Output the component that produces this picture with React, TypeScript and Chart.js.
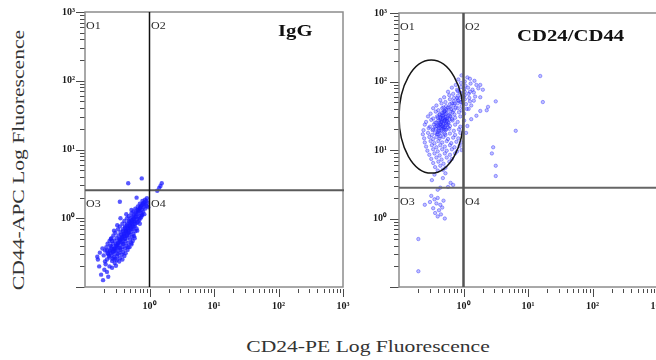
import React, { useEffect, useRef } from "react";
import { Chart, registerables } from "chart.js";
Chart.register(...registerables);

// ---------- data (log10 fluorescence) ----------
const axisMin = 0.1;
const axisMax = 1000;
const decades = [0.1, 1, 10, 100, 1000];
const decadeLabels = ["", "10\u2070", "10\u00b9", "10\u00b2", "10\u00b3"];
const minorSteps = [2, 3, 4, 5, 6, 7, 8, 9];
const quadrantNames = ["O1", "O2", "O3", "O4"];
const panelTitles = ["IgG", "CD24/CD44"];
const xAxisTitle = "CD24-PE Log Fluorescence";
const yAxisTitle = "CD44-APC Log Fluorescence";
const igGQuadrant = { x: 1, y: 2.55 };
const cdQuadrant = { x: 1, y: 2.8 };
const cdGate = { xMin: 0.1, xMax: 1.0, yMin: 4.6, yMax: 206 };

// [log10 CD24, log10 CD44]
const igGCells: [number, number][] = [
  [-0.71,-0.54],[-0.66,-0.60],[-0.62,-0.57],[-0.58,-0.62],[-0.54,-0.65],[-0.65,-0.51],[-0.69,-0.63],
  [-0.69,-0.47],[-0.64,-0.52],[-0.59,-0.54],[-0.55,-0.57],[-0.51,-0.61],[-0.61,-0.48],[-0.57,-0.59],[-0.47,-0.63],
  [-0.67,-0.42],[-0.62,-0.46],[-0.57,-0.49],[-0.54,-0.52],[-0.50,-0.55],[-0.46,-0.58],[-0.59,-0.44],[-0.53,-0.47],[-0.42,-0.60],
  [-0.65,-0.37],[-0.59,-0.41],[-0.55,-0.44],[-0.51,-0.47],[-0.47,-0.50],[-0.43,-0.53],[-0.56,-0.48],[-0.50,-0.42],[-0.39,-0.55],
  [-0.62,-0.33],[-0.57,-0.37],[-0.52,-0.40],[-0.48,-0.43],[-0.45,-0.46],[-0.41,-0.49],[-0.54,-0.44],[-0.49,-0.37],[-0.37,-0.51],
  [-0.59,-0.29],[-0.54,-0.33],[-0.49,-0.36],[-0.46,-0.39],[-0.42,-0.42],[-0.38,-0.44],[-0.51,-0.40],[-0.45,-0.33],[-0.34,-0.46],
  [-0.56,-0.25],[-0.51,-0.29],[-0.46,-0.32],[-0.43,-0.35],[-0.40,-0.37],[-0.36,-0.40],[-0.48,-0.35],[-0.42,-0.29],[-0.31,-0.42],
  [-0.53,-0.21],[-0.48,-0.25],[-0.43,-0.28],[-0.40,-0.31],[-0.37,-0.33],[-0.33,-0.36],[-0.45,-0.31],[-0.39,-0.25],[-0.28,-0.38],
  [-0.49,-0.16],[-0.45,-0.20],[-0.40,-0.23],[-0.37,-0.26],[-0.34,-0.28],[-0.30,-0.31],[-0.42,-0.26],[-0.36,-0.20],[-0.26,-0.33],
  [-0.46,-0.12],[-0.41,-0.16],[-0.37,-0.19],[-0.34,-0.22],[-0.31,-0.24],[-0.27,-0.27],[-0.39,-0.22],[-0.33,-0.16],[-0.23,-0.29],
  [-0.42,-0.08],[-0.38,-0.12],[-0.35,-0.15],[-0.32,-0.18],[-0.29,-0.20],[-0.25,-0.23],[-0.36,-0.18],[-0.30,-0.12],
  [-0.39,-0.04],[-0.35,-0.08],[-0.32,-0.11],[-0.29,-0.14],[-0.26,-0.16],[-0.22,-0.19],[-0.33,-0.14],[-0.27,-0.08],
  [-0.35,0.00],[-0.32,-0.04],[-0.29,-0.07],[-0.26,-0.10],[-0.23,-0.12],[-0.20,-0.15],[-0.30,-0.10],[-0.24,-0.04],
  [-0.32,0.03],[-0.29,0.00],[-0.26,-0.02],[-0.23,-0.05],[-0.20,-0.07],[-0.27,-0.05],[-0.21,0.01],
  [-0.28,0.07],[-0.25,0.04],[-0.22,0.02],[-0.19,-0.01],[-0.16,-0.03],[-0.24,-0.01],
  [-0.25,0.10],[-0.22,0.08],[-0.19,0.06],[-0.16,0.03],[-0.13,0.01],[-0.18,0.10],
  [-0.22,0.14],[-0.19,0.12],[-0.16,0.10],[-0.13,0.07],[-0.11,0.05],[-0.15,0.14],
  [-0.18,0.17],[-0.15,0.15],[-0.12,0.12],[-0.10,0.10],[-0.13,0.18],
  [-0.15,0.21],[-0.12,0.19],[-0.09,0.16],[-0.07,0.14],[-0.10,0.22],
  [-0.11,0.25],[-0.08,0.23],[-0.06,0.20],[-0.04,0.18],
  [-0.07,0.27],[-0.05,0.25],[-0.03,0.23],[-0.04,0.29],
  [-0.63,-0.55],[-0.60,-0.51],[-0.56,-0.45],[-0.52,-0.38],[-0.47,-0.30],[-0.44,-0.24],[-0.41,-0.19],[-0.38,-0.14],
  [-0.35,-0.10],[-0.31,-0.05],[-0.28,-0.03],[-0.25,0.02],[-0.21,0.06],[-0.17,0.12],[-0.14,0.16],[-0.09,0.20],
  [-0.53,-0.59],[-0.49,-0.52],[-0.45,-0.44],[-0.41,-0.37],[-0.38,-0.30],[-0.35,-0.25],[-0.32,-0.21],[-0.28,-0.16],
  [-0.25,-0.12],[-0.22,-0.08],[-0.18,-0.05],[-0.15,0.00],[-0.12,0.04],[-0.66,-0.47],[-0.61,-0.40],[-0.58,-0.33],
  [-0.80,-0.60],[-0.78,-0.70],[-0.75,-0.82],[-0.72,-0.90],[-0.70,-0.75],[-0.66,-0.78],[-0.62,-0.70],[-0.68,-0.67],
  [-0.77,-0.50],[-0.73,-0.44],[-0.58,-0.72],[-0.52,-0.69],[-0.81,-0.56],[-0.64,-0.85],[-0.60,-0.30],[-0.55,-0.18],
  [-0.50,-0.10],[-0.45,0.00],[-0.36,0.06],[-0.28,0.12],[-0.33,-0.42],[-0.28,-0.36],[-0.24,-0.26],[-0.19,-0.18],
  [-0.15,-0.08],[-0.08,0.06],[-0.02,0.16],[-0.33,0.51],[-0.12,0.58],[0.12,0.40],[0.15,0.44],[0.17,0.47],
  [0.19,0.51],[-0.46,0.24],[-0.20,0.30],
];

const cdCells: [number, number][] = [
  [-0.03,2.09],[0.06,2.06],
  [-0.08,2.03],[0.02,2.00],[0.10,2.04],[0.17,2.01],
  [-0.12,1.95],[-0.04,1.98],[0.03,1.94],[0.11,1.97],[0.20,1.95],
  [-0.18,1.91],[-0.10,1.88],[-0.04,1.92],[0.01,1.89],[0.07,1.91],[0.14,1.88],[0.23,1.90],
  [-0.24,1.85],[-0.16,1.82],[-0.09,1.86],[-0.03,1.83],[0.02,1.85],[0.08,1.82],[0.16,1.84],
  [-0.30,1.77],[-0.22,1.80],[-0.15,1.76],[-0.09,1.79],[-0.04,1.77],[0.02,1.80],[0.09,1.76],[0.18,1.78],
  [-0.36,1.73],[-0.28,1.70],[-0.21,1.74],[-0.15,1.71],[-0.09,1.73],[-0.04,1.70],[0.02,1.74],[0.10,1.71],[-0.18,1.68],
  [-0.42,1.65],[-0.34,1.68],[-0.27,1.64],[-0.21,1.67],[-0.15,1.65],[-0.09,1.68],[-0.03,1.64],[0.04,1.67],[-0.24,1.62],[0.12,1.65],
  [-0.47,1.61],[-0.39,1.58],[-0.33,1.61],[-0.27,1.59],[-0.21,1.62],[-0.15,1.58],[-0.09,1.61],[-0.03,1.58],[-0.30,1.56],[0.05,1.60],
  [-0.51,1.53],[-0.43,1.56],[-0.37,1.52],[-0.31,1.55],[-0.26,1.53],[-0.20,1.56],[-0.14,1.52],[-0.07,1.55],[0.01,1.53],[-0.34,1.50],[-0.23,1.51],
  [-0.55,1.49],[-0.47,1.46],[-0.41,1.49],[-0.36,1.47],[-0.31,1.50],[-0.26,1.46],[-0.20,1.49],[-0.13,1.47],[-0.05,1.49],[-0.33,1.44],[-0.28,1.45],
  [-0.58,1.41],[-0.50,1.44],[-0.44,1.40],[-0.39,1.43],[-0.34,1.41],[-0.29,1.44],[-0.24,1.40],[-0.17,1.43],[-0.09,1.41],[0.01,1.43],[-0.36,1.38],[-0.31,1.39],
  [-0.60,1.37],[-0.52,1.34],[-0.46,1.37],[-0.41,1.35],[-0.36,1.37],[-0.32,1.34],[-0.27,1.36],[-0.21,1.35],[-0.13,1.37],[-0.05,1.34],[-0.38,1.32],[-0.29,1.33],
  [-0.62,1.29],[-0.54,1.32],[-0.48,1.29],[-0.43,1.31],[-0.38,1.28],[-0.33,1.31],[-0.28,1.29],[-0.22,1.31],[-0.15,1.28],[-0.07,1.30],[-0.40,1.26],
  [-0.63,1.23],[-0.55,1.25],[-0.49,1.22],[-0.44,1.25],[-0.39,1.23],[-0.34,1.25],[-0.28,1.22],[-0.21,1.24],[-0.13,1.22],[-0.05,1.25],
  [-0.61,1.17],[-0.53,1.19],[-0.47,1.16],[-0.42,1.19],[-0.37,1.17],[-0.31,1.19],[-0.24,1.16],[-0.16,1.18],[-0.08,1.17],
  [-0.60,1.11],[-0.51,1.13],[-0.45,1.10],[-0.39,1.13],[-0.33,1.11],[-0.26,1.13],[-0.19,1.10],[-0.11,1.12],[-0.03,1.11],
  [-0.58,1.05],[-0.49,1.07],[-0.42,1.04],[-0.36,1.07],[-0.29,1.05],[-0.21,1.07],[-0.14,1.04],[-0.06,1.06],
  [-0.56,0.99],[-0.47,1.01],[-0.40,0.98],[-0.33,1.01],[-0.26,0.99],[-0.18,1.01],[-0.10,0.98],[-0.03,1.00],
  [-0.53,0.93],[-0.45,0.95],[-0.37,0.92],[-0.29,0.95],[-0.21,0.93],[-0.13,0.95],
  [-0.50,0.87],[-0.42,0.89],[-0.34,0.86],[-0.26,0.89],[-0.18,0.87],
  [-0.47,0.81],[-0.39,0.83],[-0.31,0.80],[-0.22,0.83],
  [-0.44,0.75],[-0.36,0.77],[-0.28,0.74],
  [-0.40,0.70],[-0.32,0.71],
  [-0.34,1.41],[-0.31,1.37],[-0.36,1.44],[-0.29,1.43],[-0.38,1.35],[-0.32,1.47],[-0.27,1.39],[-0.35,1.33],
  [-0.30,1.30],[-0.40,1.47],[-0.25,1.46],[-0.37,1.52],[-0.33,1.55],[-0.28,1.52],[-0.42,1.40],[-0.23,1.40],
  [-0.34,1.28],[-0.39,1.29],[-0.29,1.24],[-0.44,1.34],[-0.21,1.50],[-0.26,1.58],[-0.31,1.62],[-0.19,1.60],
  [-0.36,1.20],[-0.41,1.23],[-0.47,1.30],[-0.24,1.33],[-0.18,1.45],[-0.14,1.68],[-0.10,1.76],[-0.06,1.84],
  [-0.03,1.70],[0.00,1.78],
  [-0.30,1.42],[-0.33,1.35],[-0.37,1.40],[-0.26,1.42],[-0.32,1.50],[-0.35,1.46],[-0.28,1.48],[-0.39,1.37],
  [-0.31,1.33],[-0.27,1.30],[-0.22,1.45],[-0.25,1.37],[-0.29,1.57],[-0.17,1.55],[-0.12,1.62],[-0.08,1.72],
  [-0.49,0.56],[-0.32,0.59],[-0.16,0.49],[-0.24,0.46],[-0.40,0.42],[-0.36,0.45],[-0.45,0.64],[-0.28,0.66],[-0.20,0.52],
  [-0.50,0.33],[-0.45,0.28],[-0.40,0.30],[-0.42,0.22],[-0.36,0.20],[-0.47,0.15],[-0.38,0.12],[-0.33,0.16],
  [-0.44,0.08],[-0.40,0.03],[-0.35,0.06],[-0.29,0.00],[-0.52,0.24],[-0.31,0.26],[-0.60,0.20],[-0.70,-0.30],[-0.70,-0.77],
  [0.26,1.95],[0.26,1.77],[0.38,1.63],[0.36,1.58],[0.50,1.71],[0.26,1.57],[1.19,2.08],[1.23,1.70],
  [0.81,1.28],[0.46,1.04],[0.44,0.95],[0.50,0.77],[0.50,0.62],[0.08,1.60],[0.12,1.45],[0.06,1.35],
  [0.10,1.85],[0.16,1.72],[0.04,1.25],[0.20,1.50],[0.30,1.88],
];

// ---------- drawing helpers ----------
function stretchedText(ctx: CanvasRenderingContext2D, text: string, x: number, y: number, sx: number) {
  ctx.save();
  ctx.translate(x, y);
  ctx.scale(sx, 1);
  ctx.fillText(text, 0, 0);
  ctx.restore();
}

const flowDeco = {
  id: "flowDeco",
  afterDatasetsDraw(chart: any, _args: any, opts: any) {
    const { ctx, chartArea: a } = chart;
    const xs = chart.scales.x;
    const ys = chart.scales.y;
    ctx.save();
    if (opts.gate) {
      const l = xs.getPixelForValue(opts.gate.xMin);
      const r = xs.getPixelForValue(opts.gate.xMax);
      const t = ys.getPixelForValue(opts.gate.yMax);
      const b = ys.getPixelForValue(opts.gate.yMin);
      ctx.beginPath();
      ctx.ellipse((l + r) / 2, (t + b) / 2, (r - l) / 2, (b - t) / 2, 0, 0, Math.PI * 2);
      ctx.strokeStyle = "#151515";
      ctx.lineWidth = 1.5;
      ctx.stroke();
    }
    ctx.strokeStyle = "#8c8c8c";
    ctx.lineWidth = 1.5;
    ctx.strokeRect(a.left, a.top, a.right - a.left, a.bottom - a.top);
    const qx = xs.getPixelForValue(opts.quad.x);
    const qy = ys.getPixelForValue(opts.quad.y);
    ctx.strokeStyle = opts.hColor;
    ctx.lineWidth = opts.hWidth;
    ctx.beginPath();
    ctx.moveTo(a.left, qy);
    ctx.lineTo(a.right + 1, qy);
    ctx.stroke();
    ctx.strokeStyle = opts.vColor;
    ctx.lineWidth = opts.vWidth;
    ctx.beginPath();
    ctx.moveTo(qx, a.top);
    ctx.lineTo(qx, a.bottom);
    ctx.stroke();
    ctx.fillStyle = "#2a2a2a";
    ctx.font = '10px "Liberation Serif"';
    ctx.textBaseline = "alphabetic";
    ctx.textAlign = "left";
    stretchedText(ctx, quadrantNames[0], a.left + 1, a.top + 16.5, 1.2);
    stretchedText(ctx, quadrantNames[1], qx + 1.5, a.top + 16.5, 1.2);
    stretchedText(ctx, quadrantNames[2], a.left + 1, qy + 17, 1.2);
    stretchedText(ctx, quadrantNames[3], qx + 1.5, qy + 17, 1.2);
    ctx.fillStyle = "#111";
    ctx.font = 'bold 17px "Liberation Serif"';
    stretchedText(ctx, opts.title, a.left + opts.titleDx, a.top + opts.titleDy, 1.22);
    ctx.restore();
  },
  afterDraw(chart: any) {
    const { ctx, chartArea: a } = chart;
    const xs = chart.scales.x;
    const ys = chart.scales.y;
    ctx.save();
    ctx.globalAlpha = 1;
    ctx.setLineDash([]);
    ctx.strokeStyle = "#4a4a4a";
    ctx.lineWidth = 1;
    ctx.beginPath();
    for (let i = 0; i < decades.length; i++) {
      const d = decades[i];
      const vals: number[] = [d];
      if (d < axisMax) for (let j = 0; j < minorSteps.length; j++) vals.push(d * minorSteps[j]);
      for (let k = 0; k < vals.length; k++) {
        const v = vals[k];
        const major = k === 0;
        const py = Math.round(ys.getPixelForValue(v)) + 0.5;
        ctx.moveTo(a.left - (major ? 9 : 5), py);
        ctx.lineTo(a.left - 0.5, py);
        if (d === axisMin && major) continue;
        const px = Math.round(xs.getPixelForValue(v)) + 0.5;
        ctx.moveTo(px, a.bottom + 2);
        ctx.lineTo(px, a.bottom + 2 + (major ? 8 : 4));
      }
    }
    ctx.stroke();
    ctx.restore();
  },
};

type PanelProps = {
  cells: [number, number][];
  left: number;
  width: number;
  yAxisWidth: number;
  padRight: number;
  padTop: number;
  labelPad: number;
  deco: any;
  pointStyle: any;
};

function Panel(p: PanelProps) {
  const ref = useRef<HTMLCanvasElement | null>(null);
  useEffect(() => {
    if (!ref.current) return;
    const points = p.cells.map(([lx, ly]) => ({ x: Math.pow(10, lx), y: Math.pow(10, ly) }));
    const tickFont = { family: '"Liberation Serif"', size: 10, weight: "bold" as const };
    const labelFor = (v: number) => {
      const i = decades.findIndex((d) => Math.abs(d - v) / d < 1e-6);
      return i >= 0 ? decadeLabels[i] : "";
    };
    const setTicks = (s: any) => {
      s.ticks = decades.map((v) => ({ value: v, major: true }));
    };
    const chart = new Chart(ref.current, {
      type: "scatter",
      data: {
        datasets: [{ data: points, ...p.pointStyle }],
      },
      plugins: [flowDeco as any],
      options: {
        animation: false,
        responsive: false,
        devicePixelRatio: 1,
        events: [],
        layout: { padding: { left: 0, right: p.padRight, top: p.padTop, bottom: 0 } },
        plugins: {
          legend: { display: false },
          tooltip: { enabled: false },
          flowDeco: p.deco,
        } as any,
        scales: {
          x: {
            type: "logarithmic",
            position: "bottom",
            min: axisMin,
            max: axisMax,
            grid: { display: false, drawTicks: false },
            border: { display: false },
            afterBuildTicks: setTicks,
            afterFit: (s: any) => {
              s.height = 33;
              s.paddingLeft = 0;
              s.paddingRight = 0;
            },
            ticks: {
              autoSkip: false,
              maxRotation: 0,
              padding: 13,
              color: "#1a1a1a",
              font: tickFont,
              callback: (v: any) => labelFor(Number(v)),
            },
          },
          y: {
            type: "logarithmic",
            position: "left",
            min: axisMin,
            max: axisMax,
            grid: { display: false, drawTicks: false },
            border: { display: false },
            afterBuildTicks: setTicks,
            afterFit: (s: any) => {
              s.width = p.yAxisWidth;
              s.paddingTop = 0;
              s.paddingBottom = 0;
            },
            ticks: {
              autoSkip: false,
              padding: p.labelPad,
              color: "#1a1a1a",
              font: tickFont,
              callback: (v: any) => labelFor(Number(v)),
            },
          },
        },
      } as any,
    });
    return () => chart.destroy();
  }, []);
  return (
    <canvas
      ref={ref}
      width={p.width}
      height={320}
      style={{ position: "absolute", left: p.left, top: 0, width: p.width, height: 320 }}
    />
  );
}

export default function App() {
  return (
    <div
      style={{
        position: "absolute",
        left: 0,
        top: 0,
        width: 656,
        height: 360,
        overflow: "hidden",
        background: "#fff",
        fontFamily: '"Liberation Serif", serif',
      }}
    >
      <Panel
        cells={igGCells}
        left={60}
        width={290}
        yAxisWidth={25}
        padRight={7}
        padTop={12}
        labelPad={10}
        pointStyle={{
          pointRadius: 2.2,
          backgroundColor: "rgba(25,25,255,0.72)",
          borderWidth: 0,
        }}
        deco={{
          quad: igGQuadrant,
          hColor: "#5a5a5a",
          hWidth: 2,
          vColor: "#111",
          vWidth: 1.5,
          title: panelTitles[0],
          titleDx: 193,
          titleDy: 24,
        }}
      />
      <Panel
        cells={cdCells}
        left={350}
        width={320}
        yAxisWidth={49}
        padRight={13}
        padTop={13}
        labelPad={12}
        pointStyle={{
          pointRadius: 1.7,
          backgroundColor: "rgba(60,60,255,0.32)",
          borderColor: "rgba(30,30,255,0.55)",
          borderWidth: 0.7,
        }}
        deco={{
          quad: cdQuadrant,
          hColor: "#666",
          hWidth: 2,
          vColor: "#555",
          vWidth: 2.5,
          title: panelTitles[1],
          titleDx: 118,
          titleDy: 28,
          gate: cdGate,
        }}
      />
      <div
        style={{
          position: "absolute",
          left: 18,
          top: 160,
          fontSize: 17,
          lineHeight: "17px",
          color: "#333",
          whiteSpace: "nowrap",
          transform: "translate(-50%,-50%) rotate(-90deg) scaleX(1.27)",
        }}
      >
        {yAxisTitle}
      </div>
      <div
        style={{
          position: "absolute",
          left: 368,
          top: 346,
          fontSize: 17,
          lineHeight: "17px",
          color: "#333",
          whiteSpace: "nowrap",
          transform: "translate(-50%,-50%) scaleX(1.27)",
        }}
      >
        {xAxisTitle}
      </div>
    </div>
  );
}
